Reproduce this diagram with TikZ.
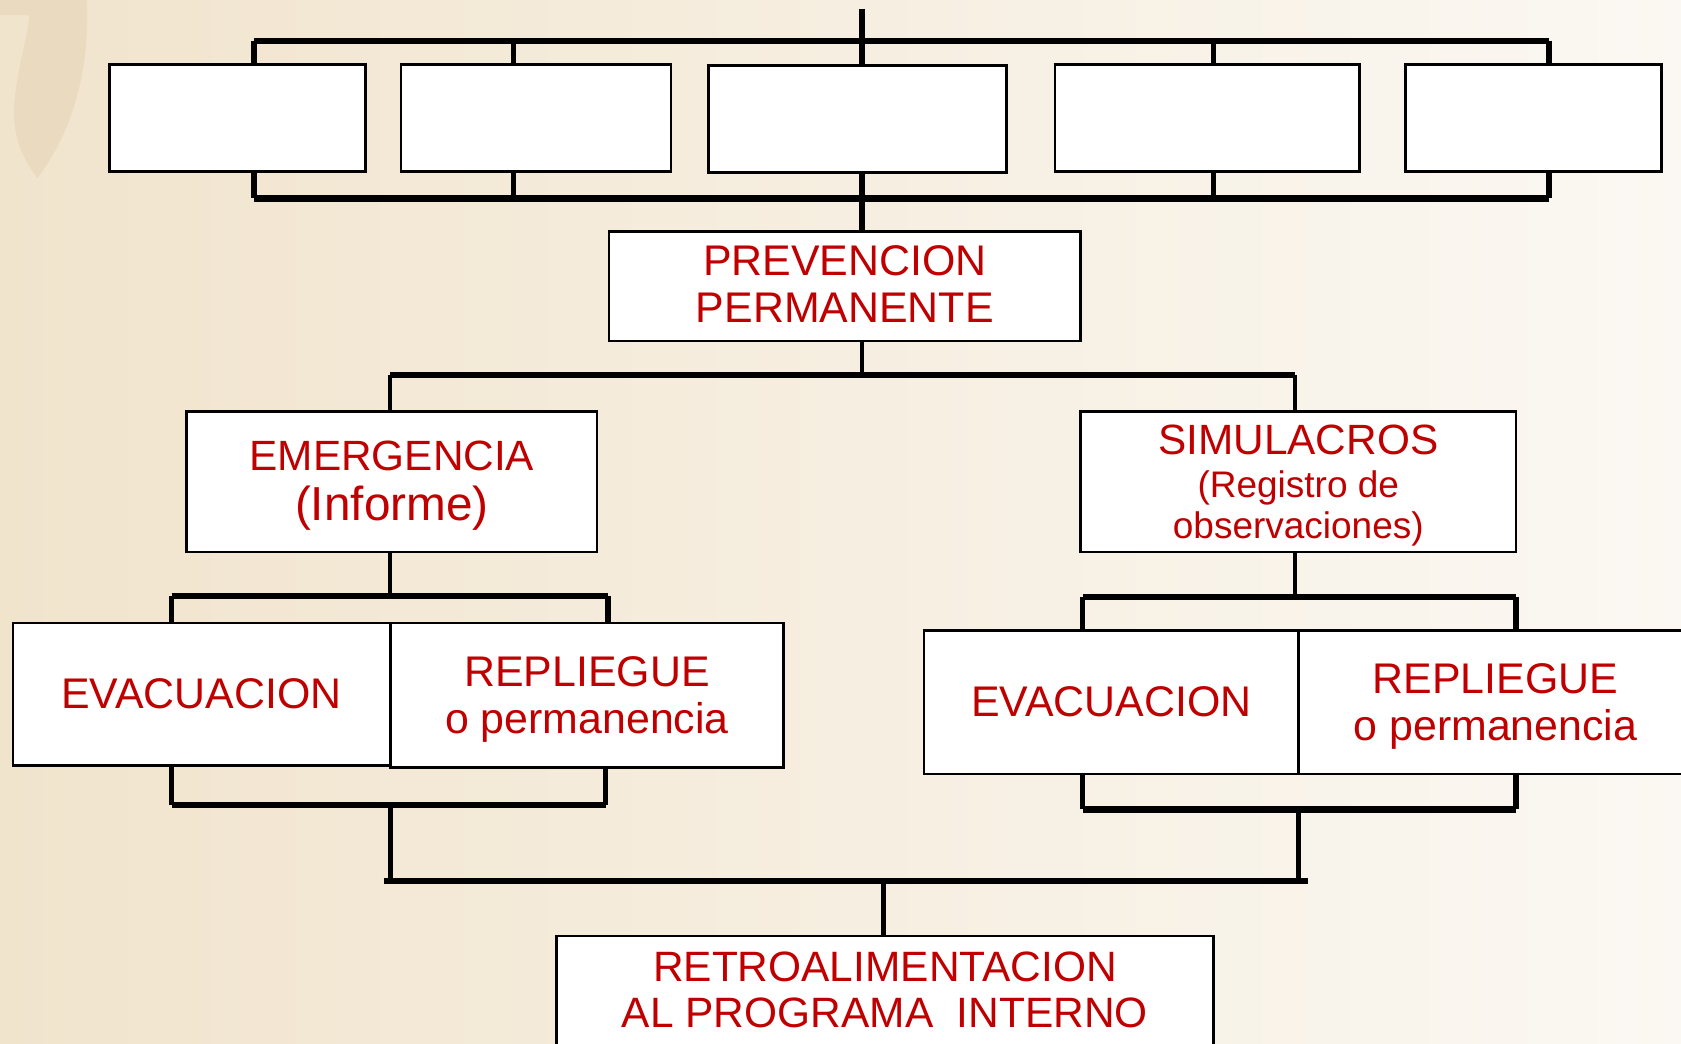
\documentclass[tikz,border=0pt]{standalone}
\usepackage{fontspec}
\setmainfont{Liberation Sans}
\definecolor{rojo}{RGB}{192,0,0}
\definecolor{fondoizq}{RGB}{241,228,205}
\definecolor{fondoder}{RGB}{251,248,243}
\definecolor{manchita}{RGB}{234,219,192}

\begin{document}
\begin{tikzpicture}[x=1pt,y=-1pt,line width=2pt,
	caja/.style={draw,fill=white,line width=2.4pt,inner sep=0pt,align=center,text=rojo,font=\fontsize{40}{44}\selectfont},
	bus/.style={line width=6pt},
	rama/.style={line width=5pt},
	tallo/.style={line width=4pt}]
	\useasboundingbox (0,0) rectangle (1568,973);
	\shade[left color=fondoizq,right color=fondoder] (0,0) rectangle (1568,973);
	\fill[manchita] (0,0) -- (81,0) .. controls (84,60) and (70,120) .. (35,166) .. controls (18,145) and (10,120) .. (14,90) .. controls (18,55) and (27,30) .. (27,14) -- (0,14) -- cycle;

	\node[caja,minimum width=239pt,minimum height=100pt] (top1) at (221.5,110) {};
	\node[caja,minimum width=252pt,minimum height=100pt] (top2) at (500,110) {};
	\node[caja,minimum width=278pt,minimum height=100pt] (top3) at (800,111) {};
	\node[caja,minimum width=284pt,minimum height=100pt] (top4) at (1126,110) {};
	\node[caja,minimum width=239pt,minimum height=100pt] (top5) at (1430.5,110) {};
	\node[caja,minimum width=440pt,minimum height=102pt,text depth=4pt] (prev) at (788,267) {PREVENCION\\PERMANENTE};
	\node[caja,minimum width=383pt,minimum height=131pt,text depth=2pt,font=\fontsize{39.5}{47}\selectfont] (emer) at (365.5,449.5) {EMERGENCIA\\{\fontsize{44.5}{47}\selectfont(Informe)}};
	\node[caja,minimum width=406pt,minimum height=131pt,text depth=0pt,font=\fontsize{39.5}{38}\selectfont] (simu) at (1211,449.5) {SIMULACROS\\[2pt]{\fontsize{34.5}{38}\selectfont(Registro de}\\{\fontsize{34.5}{38}\selectfont observaciones)}};
	\node[caja,minimum width=352pt,minimum height=133pt] (evacI) at (188,647.5) {EVACUACION};
	\node[caja,minimum width=367pt,minimum height=135pt,text depth=1pt] (replI) at (547.5,648.5) {REPLIEGUE\\o permanencia};
	\node[caja,minimum width=349pt,minimum height=134pt] (evacD) at (1036.5,655) {EVACUACION};
	\node[caja,minimum width=368pt,minimum height=134pt,text depth=1pt] (replD) at (1395,655) {REPLIEGUE\\o permanencia};
	\node[caja,anchor=north,minimum width=613pt,minimum height=104pt,text depth=4pt,font=\fontsize{39.6}{43}\selectfont] (retro) at (825.5,872) {RETROALIMENTACION\\AL PROGRAMA\ \ INTERNO};

	\coordinate (cima) at (804,8);
	\coordinate (ta1) at (237,38);
	\coordinate (ta2) at (479,38);
	\coordinate (ta3) at (804,38);
	\coordinate (ta4) at (1132,38);
	\coordinate (ta5) at (1445,38);
	\coordinate (tb1) at (237,185);
	\coordinate (tb2) at (479,185);
	\coordinate (tb3) at (804,185);
	\coordinate (tb4) at (1132,185);
	\coordinate (tb5) at (1445,185);
	\draw[rama] (cima) -- (ta3);
	\draw[bus] (ta1) -- (ta5);
	\draw[bus] (tb1) -- (tb5);
	\foreach \i in {1,...,5} {
		\draw[rama] (ta\i) -- (ta\i |- top\i.north);
		\draw[rama] (tb\i |- top\i.south) -- (tb\i);
	}
	\draw[rama] (tb3) -- (tb3 |- prev.north);

	\coordinate (pc) at (804,350);
	\coordinate (pi) at (364,350);
	\coordinate (pd) at (1208,350);
	\draw[tallo] (pc |- prev.south) -- (pc);
	\draw[bus] (pi) -- (pd);
	\draw[tallo] (pi) -- (pi |- emer.north);
	\draw[tallo] (pd) -- (pd |- simu.north);

	\coordinate (ec) at (364,556);
	\coordinate (ei) at (160,556);
	\coordinate (ed) at (567,556);
	\draw[tallo] (ec |- emer.south) -- (ec);
	\draw[bus] (ei) -- (ed);
	\draw[rama] (ei) -- (ei |- evacI.north);
	\draw[rama] (ed) -- (ed |- replI.north);
	\coordinate (fi) at (160,751);
	\coordinate (fd) at (565,751);
	\coordinate (fc) at (364,751);
	\draw[rama] (fi |- evacI.south) -- (fi);
	\draw[rama] (fd |- replI.south) -- (fd);
	\draw[bus] (fi) -- (fd);

	\coordinate (sc) at (1208,557);
	\coordinate (si) at (1010,557);
	\coordinate (sd) at (1414,557);
	\draw[tallo] (sc |- simu.south) -- (sc);
	\draw[bus] (si) -- (sd);
	\draw[rama] (si) -- (si |- evacD.north);
	\draw[rama] (sd) -- (sd |- replD.north);
	\coordinate (gi) at (1010,755);
	\coordinate (gd) at (1414,755);
	\coordinate (gc) at (1211,755);
	\draw[rama] (gi |- evacD.south) -- (gi);
	\draw[rama] (gd |- replD.south) -- (gd);
	\draw[bus] (gi) -- (gd);

	\coordinate (ri) at (364,822);
	\coordinate (rd) at (1211,822);
	\coordinate (rc) at (824,822);
	\draw[rama] (fc) -- (ri);
	\draw[rama] (gc) -- (rd);
	\draw[bus] (358,822) -- (1220,822);
	\draw[tallo] (rc) -- (rc |- retro.north);
\end{tikzpicture}
\end{document}
